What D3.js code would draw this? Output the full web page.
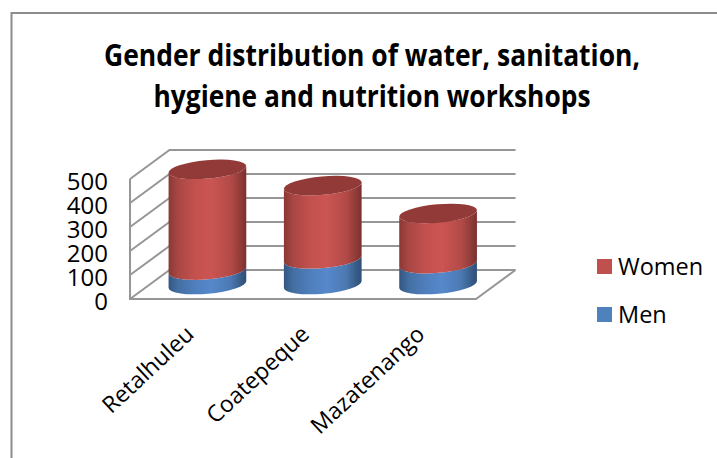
<!DOCTYPE html>
<html>
<head>
<meta charset="utf-8">
<script src="https://cdn.jsdelivr.net/npm/d3@7"></script>
<style>
  html, body { margin: 0; padding: 0; background: #fff; overflow: hidden; }
  text { font-family: "Open Sans", sans-serif; fill: #000; }
</style>
</head>
<body>
<svg id="chart" width="717" height="458"></svg>
<script>
const categories = ['Retalhuleu', 'Coatepeque', 'Mazatenango']
const men = [60, 107, 87]
const women = [420, 305, 209]
const yTicks = [0, 100, 200, 300, 400, 500]
const titleLines = ['Gender distribution of water, sanitation,', 'hygiene and nutrition workshops']
const seriesNames = ['Women', 'Men']

const svg = d3.select('#chart')
const width = 717
const height = 458

// 3d box: the back wall is shifted from the front plane by this much
const depthX = 39.5
const depthY = -29
const gridColor = '#969696'

const x = d3.scaleBand().domain(categories).range([130, 476])
const y = d3.scaleLinear().domain([0, 500]).range([299, 179])

// ------------------
// Frame
// ------------------
svg.append('path')
  .attr('d', `M11.5,${height} V13 H${width}`)
  .attr('fill', 'none')
  .attr('stroke', '#8c8c8c')
  .attr('stroke-width', 2)

// ------------------
// Title
// ------------------
svg.selectAll('.title')
  .data(titleLines)
  .enter()
  .append('text')
  .attr('class', 'title')
  .attr('x', 372)
  .attr('y', (d, i) => 66 + i * 41)
  .attr('text-anchor', 'middle')
  .attr('font-size', 30)
  .attr('font-weight', 'bold')
  .attr('textLength', (d, i) => [536, 437][i])
  .attr('lengthAdjust', 'spacingAndGlyphs')
  .text(d => d)

// ------------------
// Walls and floor
// ------------------
const walls = svg.append('g')
  .attr('fill', 'none')
  .attr('stroke', gridColor)
  .attr('stroke-width', 2)

walls.selectAll('.grid')
  .data(yTicks)
  .enter()
  .append('path')
  .attr('class', 'grid')
  .attr('d', d => `M${x.range()[0]},${y(d)} l${depthX},${depthY} H${x.range()[1] + depthX}`)

walls.append('path')
  .attr('d', `M${x.range()[0]},${y(500)} V${y(0)} H${x.range()[1]} l${depthX},${depthY}`)

// ------------------
// Axes
// ------------------
const yAxis = svg.append('g')
  .attr('transform', 'translate(108,3)')
  .call(d3.axisLeft(y).tickValues(yTicks).tickSize(0).tickPadding(0))
yAxis.select('.domain').remove()
yAxis.selectAll('text')
  .attr('font-family', '"Open Sans", sans-serif')
  .attr('font-size', 24)

const xAxis = svg.append('g')
  .attr('transform', `translate(${depthX / 2},${y(0)})`)
  .call(d3.axisBottom(x).tickSize(0))
xAxis.select('.domain').remove()
xAxis.selectAll('text')
  .attr('font-family', '"Open Sans", sans-serif')
  .attr('font-size', 23)
  .attr('text-anchor', 'end')
  .attr('dy', 0)
  .attr('y', 0)
  .attr('transform', 'translate(-12,37) rotate(-43)')

// ------------------
// Gradients
// ------------------
const defs = svg.append('defs')
function addGradient(id, stops) {
  const g = defs.append('linearGradient').attr('id', id)
  stops.forEach(([offset, color]) => {
    g.append('stop').attr('offset', offset).attr('stop-color', color)
  })
}
addGradient('redBody', [[0, '#8a3835'], [0.12, '#a84744'], [0.35, '#c4514e'], [0.55, '#cb5552'], [0.8, '#b24a47'], [0.93, '#8f3b38'], [1, '#7a302e']])
addGradient('blueBody', [[0, '#335680'], [0.12, '#446fa3'], [0.35, '#4f7fbd'], [0.55, '#5688cb'], [0.8, '#4c79b2'], [0.93, '#375c88'], [1, '#2f4f77']])

// ------------------
// Cylinders
// ------------------
const rx = 39
const ry = 9.2
const tilt = -5
const tiltRad = tilt * Math.PI / 180
const edgeX = rx * Math.cos(tiltRad)
const edgeY = rx * Math.sin(tiltRad)

// side of the cylinder between two values, with its lower edge curving forward
function bodyPath(cx, from, to) {
  const yTop = y(to) + depthY / 2
  const yBottom = y(from) + depthY / 2
  return `M${cx - edgeX},${yTop - edgeY}`
    + `L${cx - edgeX},${yBottom - edgeY}`
    + `A${rx},${ry} ${tilt} 0 0 ${cx + edgeX},${yBottom + edgeY}`
    + `L${cx + edgeX},${yTop + edgeY}`
    + `A${rx},${ry} ${tilt} 0 1 ${cx - edgeX},${yTop - edgeY}Z`
}

const cx = d => x(d) + x.bandwidth() / 2 + depthX / 2

svg.selectAll('.men-body')
  .data(categories)
  .enter()
  .append('path')
  .attr('class', 'men-body')
  .attr('fill', 'url(#blueBody)')
  .attr('d', (d, i) => bodyPath(cx(d), 0, men[i]))

svg.selectAll('.women-body')
  .data(categories)
  .enter()
  .append('path')
  .attr('class', 'women-body')
  .attr('fill', 'url(#redBody)')
  .attr('d', (d, i) => bodyPath(cx(d), men[i], men[i] + women[i]))

svg.selectAll('.women-top')
  .data(categories)
  .enter()
  .append('ellipse')
  .attr('class', 'women-top')
  .attr('rx', rx)
  .attr('ry', ry)
  .attr('fill', '#913a37')
  .attr('transform', (d, i) => `translate(${cx(d)},${y(men[i] + women[i]) + depthY / 2}) rotate(${tilt})`)

// ------------------
// Legend
// ------------------
const legend = svg.selectAll('.legend')
  .data(seriesNames)
  .enter()
  .append('g')
  .attr('class', 'legend')
  .attr('transform', (d, i) => `translate(597,${259 + i * 48})`)

legend.append('rect')
  .attr('width', 15)
  .attr('height', 15)
  .attr('fill', (d, i) => ['#c0504d', '#4f81bd'][i])

legend.append('text')
  .attr('x', 21)
  .attr('y', 16)
  .attr('font-size', 23.5)
  .text(d => d)
</script>
</body>
</html>
